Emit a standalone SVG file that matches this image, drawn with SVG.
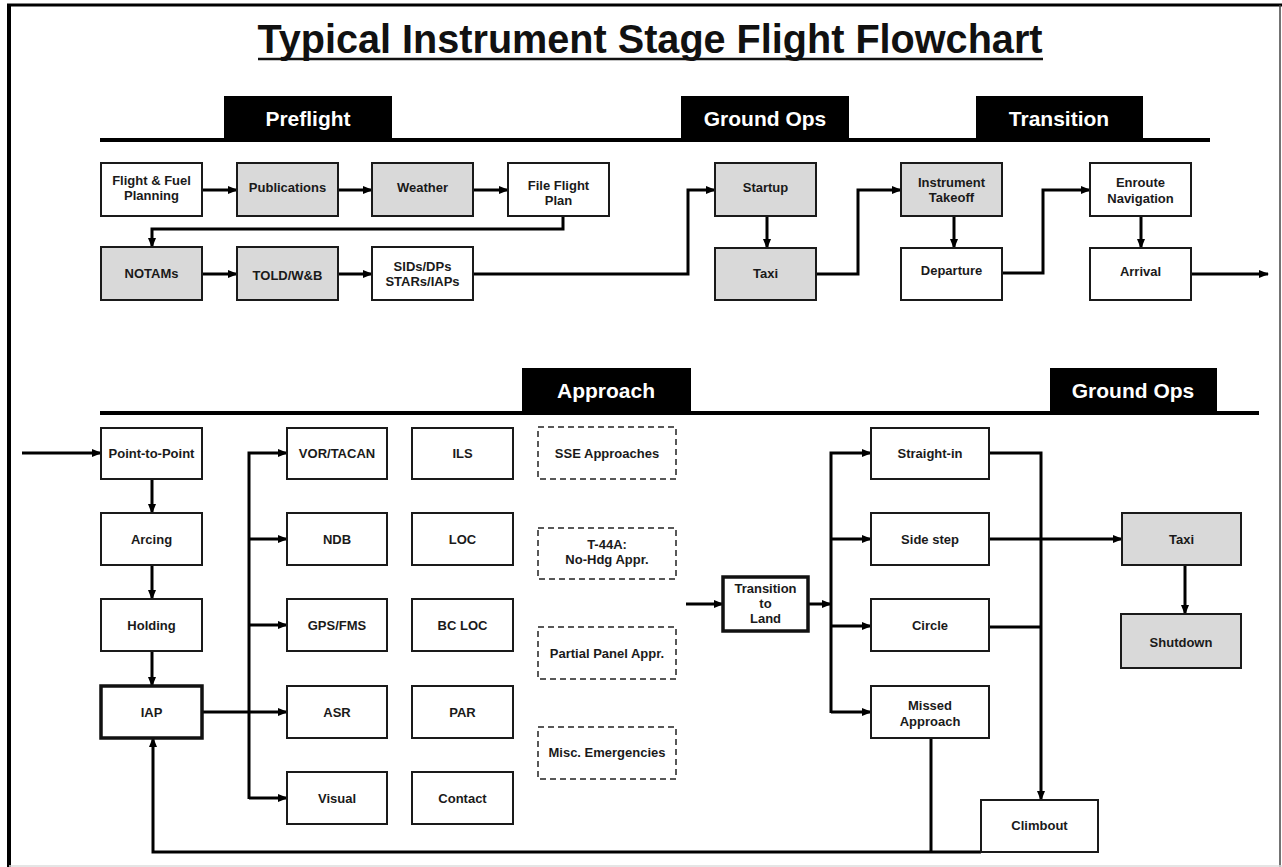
<svg xmlns="http://www.w3.org/2000/svg" width="1282" height="867" viewBox="0 0 1282 867">
<style>
.bx{fill:#fff;stroke:#1a1a1a;stroke-width:2}
.gy{fill:#d9d9d9;stroke:#1a1a1a;stroke-width:2}
.tk{fill:#fff;stroke:#111;stroke-width:3.5}
.ds{fill:#fff;stroke:#222;stroke-width:1.5;stroke-dasharray:6 4}
.t{font-family:"Liberation Sans",Arial,sans-serif;font-weight:bold;font-size:13px;fill:#1a1a1a;text-anchor:middle}
.tab{fill:#000}
.tt{font-family:"Liberation Sans",Arial,sans-serif;font-weight:bold;font-size:21px;fill:#fff;text-anchor:middle}
.c{fill:none;stroke:#000;stroke-width:3}
.ca{fill:none;stroke:#000;stroke-width:3;marker-end:url(#ah)}
.hl{stroke:#000;stroke-width:4}
</style>
<defs>
<marker id="ah" markerUnits="userSpaceOnUse" markerWidth="10" markerHeight="10" refX="9" refY="5" orient="auto">
<path d="M0,1 L10,5 L0,9 z" fill="#000"/>
</marker>
</defs>
<rect width="1282" height="867" fill="#fff"/>
<g id="frame">
<line x1="7" y1="5" x2="1282" y2="5" stroke="#000" stroke-width="3"/>
<line x1="9" y1="4" x2="9" y2="867" stroke="#000" stroke-width="4"/>
<line x1="1280" y1="5" x2="1280" y2="867" stroke="#444" stroke-width="1.5"/>
<line x1="9" y1="866" x2="1282" y2="866" stroke="#ddd" stroke-width="1.5"/>
</g>
<g id="title">
<text x="650" y="53" font-family="'Liberation Sans',Arial,sans-serif" font-weight="bold" font-size="40" text-anchor="middle" textLength="785" lengthAdjust="spacingAndGlyphs" fill="#111">Typical Instrument Stage Flight Flowchart</text>
<line x1="258" y1="59" x2="1043" y2="59" stroke="#111" stroke-width="2.5"/>
</g>
<g id="headers">
<line class="hl" x1="100" y1="140" x2="1210" y2="140"/>
<rect class="tab" x="224" y="96" width="168" height="44"/>
<text class="tt" x="308" y="126">Preflight</text>
<rect class="tab" x="681" y="96" width="168" height="44"/>
<text class="tt" x="765" y="126">Ground Ops</text>
<rect class="tab" x="976" y="96" width="167" height="44"/>
<text class="tt" x="1059" y="126">Transition</text>
<line class="hl" x1="100" y1="413" x2="1259" y2="413"/>
<rect class="tab" x="522" y="368" width="169" height="44"/>
<text class="tt" x="606" y="398">Approach</text>
<rect class="tab" x="1050" y="368" width="167" height="44"/>
<text class="tt" x="1133" y="398">Ground Ops</text>
</g>
<g id="connectors">
<path class="ca" d="M202,190 H237"/>
<path class="ca" d="M338,190 H372"/>
<path class="ca" d="M473,190 H508"/>
<path class="ca" d="M563,216 V229 H152 V247"/>
<path class="ca" d="M202,274 H237"/>
<path class="ca" d="M338,274 H372"/>
<path class="ca" d="M473,274 H688 V190 H715"/>
<path class="ca" d="M767,216 V248"/>
<path class="ca" d="M816,274 H858 V190 H901"/>
<path class="ca" d="M954,216 V248"/>
<path class="ca" d="M1002,273 H1043 V190 H1090"/>
<path class="ca" d="M1141,216 V248"/>
<path class="ca" d="M1191,274 H1268"/>
<path class="ca" d="M22,453 H101"/>
<path class="ca" d="M152,479 V513"/>
<path class="ca" d="M152,565 V599"/>
<path class="ca" d="M152,651 V686"/>
<path class="ca" d="M202,712 H287"/>
<path class="ca" d="M249,799 V453 H287"/>
<path class="ca" d="M249,539 H287"/>
<path class="ca" d="M249,625 H287"/>
<path class="ca" d="M249,798 H287"/>
<path class="ca" d="M686,604 H723"/>
<path class="ca" d="M808,604 H831"/>
<path class="ca" d="M831,713 V453 H871"/>
<path class="ca" d="M831,539 H871"/>
<path class="ca" d="M831,626 H871"/>
<path class="ca" d="M831,712 H871"/>
<path class="ca" d="M989,453 H1041 V800"/>
<path class="c" d="M989,627 H1041"/>
<path class="ca" d="M989,539 H1122"/>
<path class="ca" d="M1185,565 V614"/>
<path class="c" d="M931,738 V852"/>
<path class="ca" d="M981,852 H153 V738"/>
</g>
<g id="n-flight-fuel"><rect class="bx" x="101" y="163" width="101" height="53"/><text class="t" x="151.5" y="185">Flight &amp; Fuel</text><text class="t" x="151.5" y="200">Planning</text></g>
<g id="n-publications"><rect class="gy" x="237" y="163" width="101" height="53"/><text class="t" x="287.5" y="192">Publications</text></g>
<g id="n-weather"><rect class="gy" x="372" y="163" width="101" height="53"/><text class="t" x="422.5" y="192">Weather</text></g>
<g id="n-file-flight-plan"><rect class="bx" x="508" y="163" width="101" height="53"/><text class="t" x="558.5" y="190">File Flight</text><text class="t" x="558.5" y="205">Plan</text></g>
<g id="n-notams"><rect class="gy" x="101" y="247" width="101" height="53"/><text class="t" x="151.5" y="278">NOTAMs</text></g>
<g id="n-told"><rect class="gy" x="237" y="247" width="101" height="53"/><text class="t" x="287.5" y="280">TOLD/W&amp;B</text></g>
<g id="n-sids"><rect class="bx" x="372" y="247" width="101" height="53"/><text class="t" x="422.5" y="271">SIDs/DPs</text><text class="t" x="422.5" y="286">STARs/IAPs</text></g>
<g id="n-startup"><rect class="gy" x="715" y="163" width="101" height="53"/><text class="t" x="765.5" y="192">Startup</text></g>
<g id="n-taxi1"><rect class="gy" x="715" y="248" width="101" height="52"/><text class="t" x="765.5" y="278">Taxi</text></g>
<g id="n-ito"><rect class="gy" x="901" y="163" width="101" height="53"/><text class="t" x="951.5" y="187">Instrument</text><text class="t" x="951.5" y="202">Takeoff</text></g>
<g id="n-departure"><rect class="bx" x="901" y="248" width="101" height="52"/><text class="t" x="951.5" y="275" font-size="12">Departure</text></g>
<g id="n-enroute"><rect class="bx" x="1090" y="163" width="101" height="53"/><text class="t" x="1140.5" y="187">Enroute</text><text class="t" x="1140.5" y="203">Navigation</text></g>
<g id="n-arrival"><rect class="bx" x="1090" y="248" width="101" height="52"/><text class="t" x="1140.5" y="276">Arrival</text></g>
<g id="n-p2p"><rect class="bx" x="101" y="428" width="101" height="51"/><text class="t" x="151.5" y="458">Point-to-Point</text></g>
<g id="n-arcing"><rect class="bx" x="101" y="513" width="101" height="52"/><text class="t" x="151.5" y="544">Arcing</text></g>
<g id="n-holding"><rect class="bx" x="101" y="599" width="101" height="52"/><text class="t" x="151.5" y="630">Holding</text></g>
<g id="n-iap"><rect class="tk" x="101" y="686" width="101" height="52"/><text class="t" x="151.5" y="717">IAP</text></g>
<g id="n-vor"><rect class="bx" x="287" y="428" width="100" height="51"/><text class="t" x="337" y="458">VOR/TACAN</text></g>
<g id="n-ndb"><rect class="bx" x="287" y="513" width="100" height="52"/><text class="t" x="337" y="544">NDB</text></g>
<g id="n-gps"><rect class="bx" x="287" y="599" width="100" height="52"/><text class="t" x="337" y="630">GPS/FMS</text></g>
<g id="n-asr"><rect class="bx" x="287" y="686" width="100" height="52"/><text class="t" x="337" y="717">ASR</text></g>
<g id="n-visual"><rect class="bx" x="287" y="772" width="100" height="52"/><text class="t" x="337" y="803">Visual</text></g>
<g id="n-ils"><rect class="bx" x="412" y="428" width="101" height="51"/><text class="t" x="462.5" y="458">ILS</text></g>
<g id="n-loc"><rect class="bx" x="412" y="513" width="101" height="52"/><text class="t" x="462.5" y="544">LOC</text></g>
<g id="n-bcloc"><rect class="bx" x="412" y="599" width="101" height="52"/><text class="t" x="462.5" y="630">BC LOC</text></g>
<g id="n-par"><rect class="bx" x="412" y="686" width="101" height="52"/><text class="t" x="462.5" y="717">PAR</text></g>
<g id="n-contact"><rect class="bx" x="412" y="772" width="101" height="52"/><text class="t" x="462.5" y="803">Contact</text></g>
<g id="n-sse"><rect class="ds" x="538" y="427" width="138" height="52"/><text class="t" x="607" y="458" font-size="12.5">SSE Approaches</text></g>
<g id="n-t44a"><rect class="ds" x="538" y="528" width="138" height="51"/><text class="t" x="607" y="549" font-size="12.5">T-44A:</text><text class="t" x="607" y="564" font-size="12.5">No-Hdg Appr.</text></g>
<g id="n-partial"><rect class="ds" x="538" y="627" width="138" height="52"/><text class="t" x="607" y="658" font-size="11.5">Partial Panel Appr.</text></g>
<g id="n-misc"><rect class="ds" x="538" y="727" width="138" height="52"/><text class="t" x="607" y="757" font-size="11.5">Misc. Emergencies</text></g>
<g id="n-ttl"><rect class="tk" x="723" y="577" width="85" height="54"/><text class="t" x="765.5" y="593">Transition</text><text class="t" x="765.5" y="608">to</text><text class="t" x="765.5" y="623">Land</text></g>
<g id="n-straight"><rect class="bx" x="871" y="428" width="118" height="51"/><text class="t" x="930" y="458">Straight-in</text></g>
<g id="n-sidestep"><rect class="bx" x="871" y="513" width="118" height="52"/><text class="t" x="930" y="544">Side step</text></g>
<g id="n-circle"><rect class="bx" x="871" y="599" width="118" height="52"/><text class="t" x="930" y="630">Circle</text></g>
<g id="n-missed"><rect class="bx" x="871" y="686" width="118" height="52"/><text class="t" x="930" y="710">Missed</text><text class="t" x="930" y="726">Approach</text></g>
<g id="n-climbout"><rect class="bx" x="981" y="800" width="117" height="52"/><text class="t" x="1039.5" y="830">Climbout</text></g>
<g id="n-taxi2"><rect class="gy" x="1122" y="513" width="119" height="52"/><text class="t" x="1181.5" y="544">Taxi</text></g>
<g id="n-shutdown"><rect class="gy" x="1121" y="614" width="120" height="54"/><text class="t" x="1181" y="647" font-size="16">Shutdown</text></g>
</svg>
